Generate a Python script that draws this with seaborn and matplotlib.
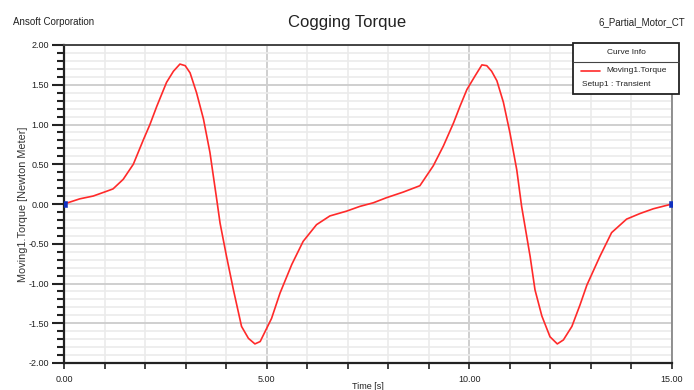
import numpy as np
import pandas as pd
import matplotlib
matplotlib.use("Agg")
import matplotlib.pyplot as plt
from matplotlib.patches import Rectangle
from matplotlib.lines import Line2D
from matplotlib.ticker import MultipleLocator, FormatStrFormatter
import seaborn as sns

# ---- data ----
time_s = [0.00, 0.39, 0.72, 1.05, 1.21, 1.46, 1.71, 1.96, 2.12, 2.29, 2.53, 2.70,
          2.86, 2.99, 3.11, 3.27, 3.44, 3.60, 3.77, 3.85, 4.01, 4.18, 4.38, 4.55,
          4.71, 4.84, 5.12, 5.33, 5.62, 5.90, 6.23, 6.56, 6.97, 7.30, 7.63, 7.96,
          8.37, 8.78, 9.11, 9.36, 9.61, 9.77, 9.94, 10.14, 10.31, 10.43, 10.55,
          10.68, 10.84, 11.00, 11.17, 11.29, 11.50, 11.62, 11.79, 11.99, 12.17,
          12.32, 12.53, 12.73, 12.90, 13.22, 13.51, 13.88, 14.21, 14.54, 15.00]
torque = [0.00, 0.065, 0.10, 0.16, 0.19, 0.31, 0.50, 0.81, 1.00, 1.23, 1.53, 1.67,
          1.76, 1.74, 1.65, 1.40, 1.07, 0.65, 0.05, -0.24, -0.66, -1.08, -1.54, -1.69,
          -1.76, -1.73, -1.44, -1.12, -0.76, -0.47, -0.26, -0.15, -0.09, -0.03, 0.015, 0.08,
          0.15, 0.23, 0.48, 0.73, 1.02, 1.23, 1.44, 1.61, 1.75, 1.74, 1.67,
          1.55, 1.28, 0.90, 0.43, -0.03, -0.66, -1.08, -1.41, -1.67, -1.76,
          -1.71, -1.54, -1.27, -1.02, -0.66, -0.36, -0.19, -0.12, -0.06, 0.00]
x_ticks = [0.0, 5.0, 10.0, 15.0]
y_ticks = [-2.0, -1.5, -1.0, -0.5, 0.0, 0.5, 1.0, 1.5, 2.0]

title = "Cogging Torque"
left_note = "Ansoft Corporation"
right_note = "6_Partial_Motor_CT"
x_label = "Time [s]"
y_label = "Moving1.Torque [Newton Meter]"
legend_title = "Curve Info"
series_name = "Moving1.Torque"
setup_name = "Setup1 : Transient"

df = pd.DataFrame({"t": time_s, "v": torque})
ends = df.iloc[[0, -1]]

sns.set_style("white")
plt.rcParams["font.family"] = ["Liberation Sans", "DejaVu Sans"]

fig = plt.figure(figsize=(6.94, 3.90), dpi=100)
ax = fig.add_axes([64 / 694, 1 - 363 / 390, (672 - 64) / 694, (363 - 45) / 390])

line_color = "#ff2a2a"
sns.lineplot(data=df, x="t", y="v", ax=ax, color=line_color, lw=1.2,
             estimator=None, sort=False, zorder=3)
sns.scatterplot(data=ends, x="t", y="v", ax=ax, color="#1030c0", marker="s",
                s=22, edgecolor="#1030c0", zorder=4, clip_on=True)

ax.set_xlim(0, 15)
ax.set_ylim(-2, 2)
ax.set_xticks(x_ticks)
ax.set_yticks(y_ticks)
ax.xaxis.set_major_formatter(FormatStrFormatter("%.2f"))
ax.yaxis.set_major_formatter(FormatStrFormatter("%.2f"))
ax.xaxis.set_minor_locator(MultipleLocator(1.0))
ax.yaxis.set_minor_locator(MultipleLocator(0.1))

# grid
ax.grid(which="minor", axis="both", color="#ebebeb", lw=1.2, zorder=0)
ax.grid(which="major", axis="both", color="#cfcfcf", lw=1.4, zorder=0)
ax.set_axisbelow(True)

ax.tick_params(axis="y", which="major", direction="out", length=9, width=1.5,
               color="#222222", labelsize=6.5, pad=2, labelcolor="#222222", left=True)
ax.tick_params(axis="y", which="minor", direction="out", length=5, width=1.5,
               color="#222222", left=True)
ax.tick_params(axis="x", which="both", direction="out", length=4, width=1.2,
               color="#222222", labelsize=6.5, pad=5, labelcolor="#222222", bottom=True)

for side in ["left", "bottom"]:
    ax.spines[side].set_color("#222222")
    ax.spines[side].set_linewidth(1.6)
ax.spines["top"].set_color("#444444")
ax.spines["top"].set_linewidth(1.4)
ax.spines["right"].set_color("#888888")
ax.spines["right"].set_linewidth(1.3)

ax.set_xlabel(x_label, fontsize=6.5, color="#222222", labelpad=-1.5)
ax.set_ylabel(y_label, fontsize=7.8, color="#333333", labelpad=0)

# header texts
fig.text(347 / 694, 1 - 22 / 390, title, ha="center", va="center", fontsize=12, color="#222222")
fig.text(13 / 694, 1 - 22 / 390, left_note, ha="left", va="center", fontsize=7, color="#222222")
fig.text(685 / 694, 1 - 22 / 390, right_note, ha="right", va="center", fontsize=7, color="#222222")

# legend box (Curve Info)
W, H = 694.0, 390.0
bx0, bx1, by0, by1 = 573, 679, 43, 94
fig.patches.append(Rectangle((bx0 / W, 1 - by1 / H), (bx1 - bx0) / W, (by1 - by0) / H,
                             transform=fig.transFigure, facecolor="white",
                             edgecolor="#222222", lw=1.3, zorder=10))
fig.lines.append(Line2D([bx0 / W, bx1 / W], [1 - 62 / H, 1 - 62 / H],
                        transform=fig.transFigure, color="#444444", lw=0.8, zorder=11))
fig.lines.append(Line2D([581 / W, 600 / W], [1 - 71 / H, 1 - 71 / H],
                        transform=fig.transFigure, color=line_color, lw=1.2, zorder=11))
fig.text((bx0 + bx1) / 2 / W, 1 - 52 / H, legend_title, ha="center", va="center",
         fontsize=6, color="#222222", zorder=12)
fig.text(606 / W, 1 - 71 / H, series_name, ha="left", va="center",
         fontsize=6, color="#222222", zorder=12)
fig.text(582 / W, 1 - 84 / H, setup_name, ha="left", va="center",
         fontsize=6, color="#222222", zorder=12)

fig.savefig("out.png", dpi=100, facecolor="white")
